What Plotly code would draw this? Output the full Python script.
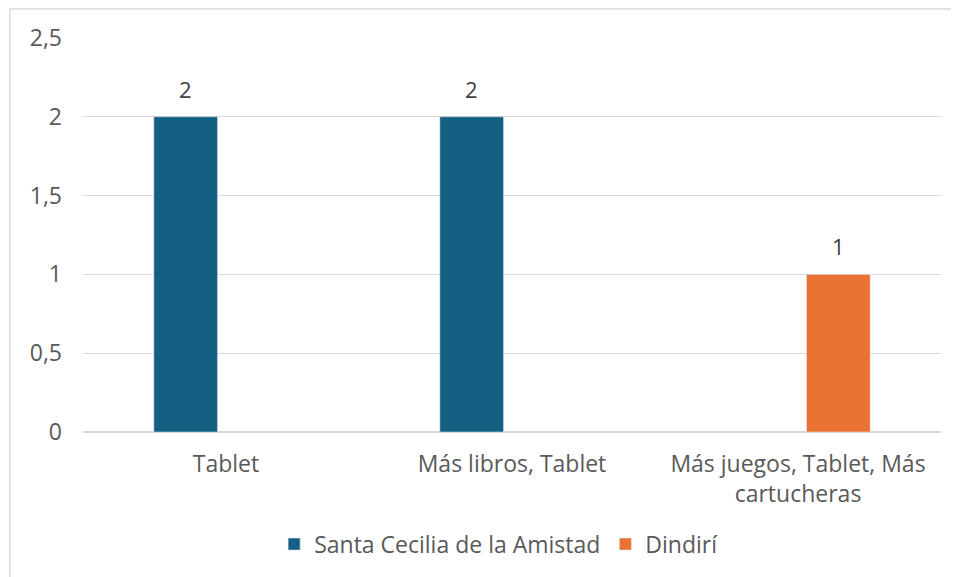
import plotly.graph_objects as go

categories = ["Tablet", "Más libros, Tablet", "Más juegos, Tablet, Más<br>cartucheras"]
santa_cecilia = [2, 2, None]
dindiri = [None, None, 1]

blue = "#156082"
orange = "#E97132"
grey_text = "#595959"
grid = "#D9D9D9"
font_family = "Open Sans, Noto Sans, sans-serif"
fs = 23
bargap = 0.436

fig = go.Figure()
fig.add_trace(go.Bar(x=categories, y=santa_cecilia, name="Santa Cecilia de la Amistad",
                     marker_color=blue))
fig.add_trace(go.Bar(x=categories, y=dindiri, name="Dindirí", marker_color=orange))

# data labels sit a bit above the bars, like Excel does
series = [santa_cecilia, dindiri]
slot = (1 - bargap) / len(series)
for k, vals in enumerate(series):
    off = (k - (len(series) - 1) / 2) * slot
    for i, v in enumerate(vals):
        if v is None:
            continue
        fig.add_annotation(x=i + off, y=v, text=str(v), showarrow=False,
                           xref="x", yref="y", yanchor="bottom", yshift=11,
                           font=dict(size=fs - 1, color="#404040"))

# page has an 8px body margin, so margins are shifted by that amount
fig.update_layout(
    width=959, height=577,
    margin=dict(l=75, r=26, t=30, b=153, autoexpand=False),
    paper_bgcolor="white", plot_bgcolor="white",
    font=dict(family=font_family, size=fs, color=grey_text),
    separators=",.",
    barmode="group", bargap=bargap, bargroupgap=0.21,
    showlegend=True,
    legend=dict(orientation="h", x=0.485, xanchor="center", y=-0.23, yanchor="top",
                font=dict(size=fs, color=grey_text), itemwidth=30, traceorder="normal"),
    shapes=[dict(type="rect", xref="paper", yref="paper",
                 x0=-0.0851, x1=1.05, y0=-0.4, y1=1.0736,
                 line=dict(color="#D9D9D9", width=1.5), fillcolor="rgba(0,0,0,0)",
                 layer="below")],
)
fig.update_yaxes(range=[0, 2.5], dtick=0.5, showgrid=True, gridcolor=grid, gridwidth=1,
                 zeroline=True, zerolinecolor=grid, zerolinewidth=1.5,
                 ticklabelstandoff=20, showline=False, automargin=False,
                 tickfont=dict(size=fs, color=grey_text))
fig.update_xaxes(showline=False, ticks="", ticklabelstandoff=16, automargin=False,
                 tickfont=dict(size=fs, color=grey_text))

fig.write_html("out.html")
